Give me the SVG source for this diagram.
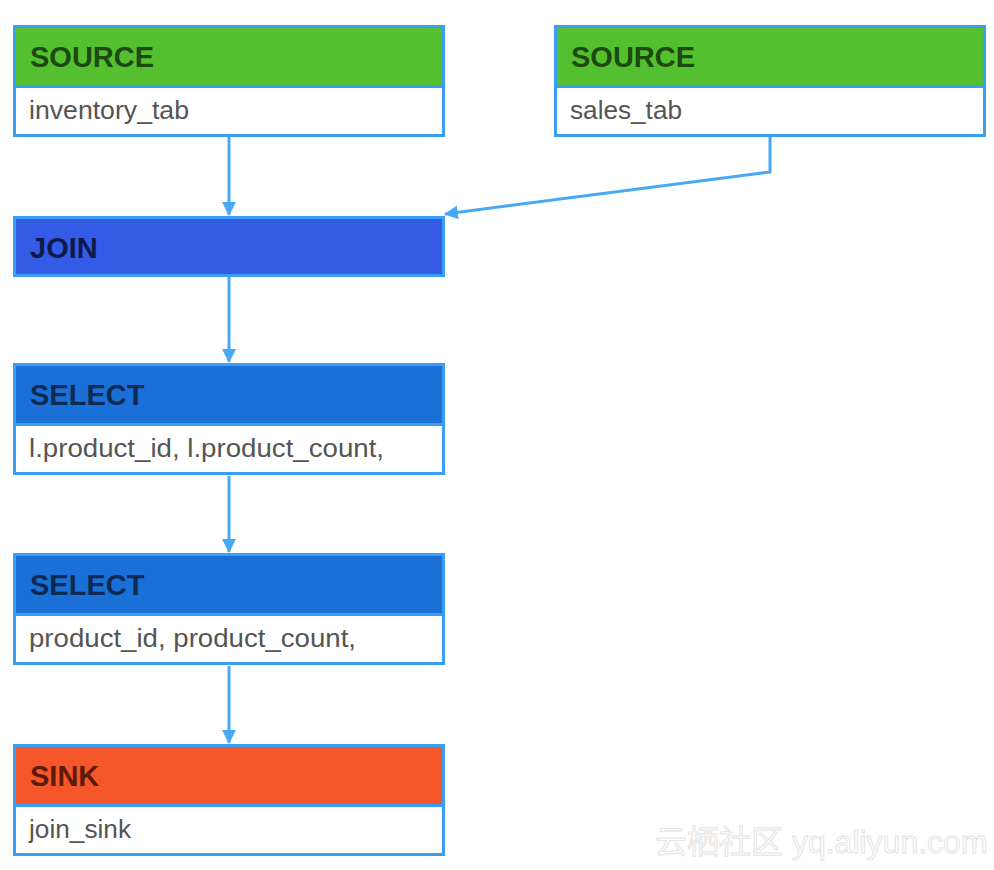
<svg xmlns="http://www.w3.org/2000/svg" width="994" height="870" viewBox="0 0 994 870">
<style>
.frame{fill:#ffffff;stroke:#3a9ef5;stroke-width:3}
.div{stroke:#3a9ef5;stroke-width:3}
.hd{font-family:"Liberation Sans",Arial,sans-serif;font-weight:bold;font-size:29px}
.bd{font-family:"Liberation Sans",Arial,sans-serif;font-size:26.5px;fill:#555555}
.conn{fill:none;stroke:#47a8f6;stroke-width:3}
.wm{font-family:"Liberation Sans","Noto Sans CJK SC",sans-serif;font-size:32px;fill:#ffffff;stroke:#e4e4e4;stroke-width:1}
</style>
<defs>
<marker id="arr" viewBox="0 0 14 14" refX="13" refY="7" markerWidth="14" markerHeight="14" markerUnits="userSpaceOnUse" orient="auto">
<path d="M0,0 L14,7 L0,14 Z" fill="#47a8f6"/>
</marker>
</defs>
<g id="connectors">
<path class="conn" d="M229,137 V215" marker-end="url(#arr)"/>
<path class="conn" d="M770,137 V172 L445,214" marker-end="url(#arr)"/>
<path class="conn" d="M229,277 V362" marker-end="url(#arr)"/>
<path class="conn" d="M229,476 V552" marker-end="url(#arr)"/>
<path class="conn" d="M229,666 V743" marker-end="url(#arr)"/>
</g>
<g id="source-inventory" transform="translate(13,25)">
<rect class="frame" x="1.5" y="1.5" width="429" height="109"/>
<rect x="3" y="3" width="426" height="57" fill="#55c02f"/>
<line class="div" x1="0" y1="61.5" x2="432" y2="61.5"/>
<text class="hd" x="17" y="42" fill="#1c4a12">SOURCE</text>
<text class="bd" x="16" y="94" textLength="160" lengthAdjust="spacingAndGlyphs">inventory_tab</text>
</g>
<g id="source-sales" transform="translate(554,25)">
<rect class="frame" x="1.5" y="1.5" width="429" height="109"/>
<rect x="3" y="3" width="426" height="57" fill="#55c02f"/>
<line class="div" x1="0" y1="61.5" x2="432" y2="61.5"/>
<text class="hd" x="17" y="42" fill="#1c4a12">SOURCE</text>
<text class="bd" x="16" y="94" textLength="112" lengthAdjust="spacingAndGlyphs">sales_tab</text>
</g>
<g id="join" transform="translate(13,216)">
<rect x="1.5" y="1.5" width="429" height="58" fill="#345be5" stroke="#3a9ef5" stroke-width="3"/>
<text class="hd" x="17" y="42" fill="#0f1a4a">JOIN</text>
</g>
<g id="select1" transform="translate(13,363)">
<rect class="frame" x="1.5" y="1.5" width="429" height="109"/>
<rect x="3" y="3" width="426" height="57" fill="#1b70d8"/>
<line class="div" x1="0" y1="61.5" x2="432" y2="61.5"/>
<text class="hd" x="17" y="42" fill="#0d2a52">SELECT</text>
<text class="bd" x="16" y="94" textLength="355" lengthAdjust="spacingAndGlyphs">l.product_id, l.product_count,</text>
</g>
<g id="select2" transform="translate(13,553)">
<rect class="frame" x="1.5" y="1.5" width="429" height="109"/>
<rect x="3" y="3" width="426" height="57" fill="#1b70d8"/>
<line class="div" x1="0" y1="61.5" x2="432" y2="61.5"/>
<text class="hd" x="17" y="42" fill="#0d2a52">SELECT</text>
<text class="bd" x="16" y="94" textLength="327" lengthAdjust="spacingAndGlyphs">product_id, product_count,</text>
</g>
<g id="sink" transform="translate(13,744)">
<rect class="frame" x="1.5" y="1.5" width="429" height="109"/>
<rect x="3" y="3" width="426" height="57" fill="#f5572a"/>
<line class="div" x1="0" y1="61.5" x2="432" y2="61.5"/>
<text class="hd" x="17" y="42" fill="#5c1a0b">SINK</text>
<text class="bd" x="16" y="94" textLength="102" lengthAdjust="spacingAndGlyphs">join_sink</text>
</g>
<text class="wm" x="655" y="853">云栖社区 yq.aliyun.com</text>
</svg>
